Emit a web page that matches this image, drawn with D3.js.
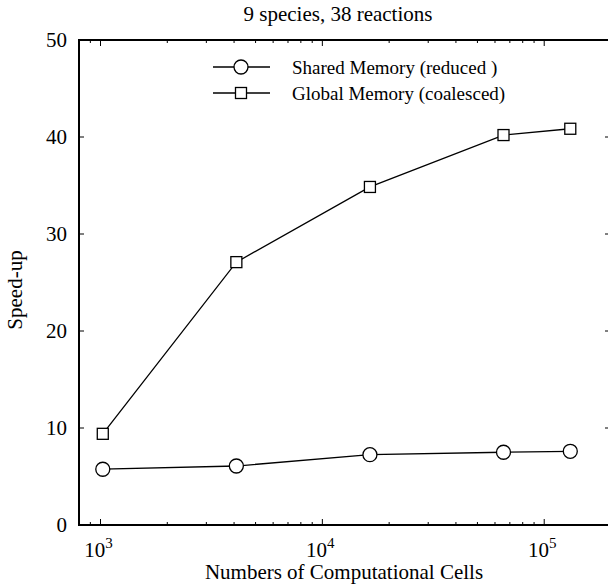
<!DOCTYPE html>
<html>
<head>
<meta charset="utf-8">
<script src="https://cdn.jsdelivr.net/npm/d3@7"></script>
<style>
  body { margin: 0; background: #fff; }
</style>
</head>
<body>
<svg id="chart" width="608" height="585"></svg>
<script>
// data
const cells = [1024, 4096, 16384, 65536, 131072];
const sharedSpeedup = [5.75, 6.08, 7.25, 7.5, 7.6];
const globalSpeedup = [9.4, 27.1, 34.85, 40.2, 40.85];
const yTicks = [0, 10, 20, 30, 40, 50];
const xMajor = [1e3, 1e4, 1e5];
const seriesNames = ['Shared Memory (reduced )', 'Global Memory (coalesced)'];

const fontFamily = 'Liberation Serif, Tinos, DejaVu Serif, Noto Serif, Times New Roman, serif';

const svg = d3.select('#chart')
  .attr('font-family', fontFamily);
const plotLeft = 79, plotRight = 611, plotTop = 40, plotBottom = 525;

const x = d3.scaleLog().domain([800, 200000]).range([plotLeft, plotRight]);
const y = d3.scaleLinear().domain([0, 50]).range([plotBottom, plotTop]);

// minor ticks: 2..9 x 10^k inside domain
const xMinor = [];
[100, 1000, 10000, 100000].forEach((d) => {
  for (let k = 2; k <= 9; k++) {
    const v = d * k;
    if (v >= 800 && v <= 200000 && !xMajor.includes(v)) xMinor.push(v);
  }
});

const g = svg.append('g');

// ticks (inward)
const tickG = g.append('g').attr('stroke', '#000').attr('stroke-width', 1);
xMajor.forEach((v) => {
  tickG.append('line').attr('x1', x(v)).attr('x2', x(v)).attr('y1', plotBottom).attr('y2', plotBottom - 6);
  tickG.append('line').attr('x1', x(v)).attr('x2', x(v)).attr('y1', plotTop).attr('y2', plotTop + 6);
});
xMinor.forEach((v) => {
  tickG.append('line').attr('x1', x(v)).attr('x2', x(v)).attr('y1', plotBottom).attr('y2', plotBottom - 3);
  tickG.append('line').attr('x1', x(v)).attr('x2', x(v)).attr('y1', plotTop).attr('y2', plotTop + 3);
});
yTicks.forEach((v) => {
  tickG.append('line').attr('x1', plotLeft).attr('x2', plotLeft + 5).attr('y1', y(v)).attr('y2', y(v));
  tickG.append('line').attr('x1', plotRight).attr('x2', plotRight - 6).attr('y1', y(v)).attr('y2', y(v));
});

// frame
g.append('rect')
  .attr('x', plotLeft).attr('y', plotTop)
  .attr('width', plotRight - plotLeft).attr('height', plotBottom - plotTop)
  .attr('fill', 'none').attr('stroke', '#000').attr('stroke-width', 2);

// y tick labels
g.selectAll('.ylab').data(yTicks).join('text')
  .attr('font-family', fontFamily)
  .attr('x', plotLeft - 12).attr('y', (d) => y(d) + 7)
  .attr('text-anchor', 'end').attr('font-size', 21)
  .text((d) => d);

// x tick labels 10^k
xMajor.forEach((v) => {
  const t = g.append('text')
    .attr('font-family', fontFamily)
    .attr('x', x(v) - 2).attr('y', 557)
    .attr('text-anchor', 'middle').attr('font-size', 21);
  t.append('tspan').text('10');
  t.append('tspan').attr('font-size', 15).attr('dy', -9).text(Math.round(Math.log10(v)));
});

// titles
g.append('text').attr('font-family', fontFamily)
  .attr('x', 338).attr('y', 21).attr('text-anchor', 'middle')
  .attr('font-size', 21).text('9 species, 38 reactions');
g.append('text').attr('font-family', fontFamily)
  .attr('x', 344).attr('y', 579).attr('text-anchor', 'middle')
  .attr('font-size', 21).text('Numbers of Computational Cells');
g.append('text').attr('font-family', fontFamily)
  .attr('transform', 'translate(22,290) rotate(-90)')
  .attr('text-anchor', 'middle').attr('font-size', 21).text('Speed-up');

// series
const line = d3.line().x((d) => x(d[0])).y((d) => y(d[1]));
const shared = cells.map((c, i) => [c, sharedSpeedup[i]]);
const global = cells.map((c, i) => [c, globalSpeedup[i]]);

g.append('path').datum(shared).attr('d', line)
  .attr('fill', 'none').attr('stroke', '#000').attr('stroke-width', 1.3);
g.append('path').datum(global).attr('d', line)
  .attr('fill', 'none').attr('stroke', '#000').attr('stroke-width', 1.3);

g.selectAll('.circ').data(shared).join('circle')
  .attr('cx', (d) => x(d[0])).attr('cy', (d) => y(d[1])).attr('r', 7)
  .attr('fill', '#fff').attr('stroke', '#000').attr('stroke-width', 1.3);
g.selectAll('.sq').data(global).join('rect')
  .attr('x', (d) => x(d[0]) - 5.5).attr('y', (d) => y(d[1]) - 5.5)
  .attr('width', 11).attr('height', 11)
  .attr('fill', '#fff').attr('stroke', '#000').attr('stroke-width', 1.3);

// legend
const legend = g.append('g');
seriesNames.forEach((name, i) => {
  const ly = 67 + i * 26;
  legend.append('line').attr('x1', 213).attr('x2', 270).attr('y1', ly).attr('y2', ly)
    .attr('stroke', '#000').attr('stroke-width', 1.3);
  if (i === 0) {
    legend.append('circle').attr('cx', 241).attr('cy', ly).attr('r', 7)
      .attr('fill', '#fff').attr('stroke', '#000').attr('stroke-width', 1.3);
  } else {
    legend.append('rect').attr('x', 235.5).attr('y', ly - 5.5).attr('width', 11).attr('height', 11)
      .attr('fill', '#fff').attr('stroke', '#000').attr('stroke-width', 1.3);
  }
  legend.append('text').attr('font-family', fontFamily)
    .attr('x', 292).attr('y', ly + 7).attr('font-size', 19).text(name);
});
</script>
</body>
</html>
